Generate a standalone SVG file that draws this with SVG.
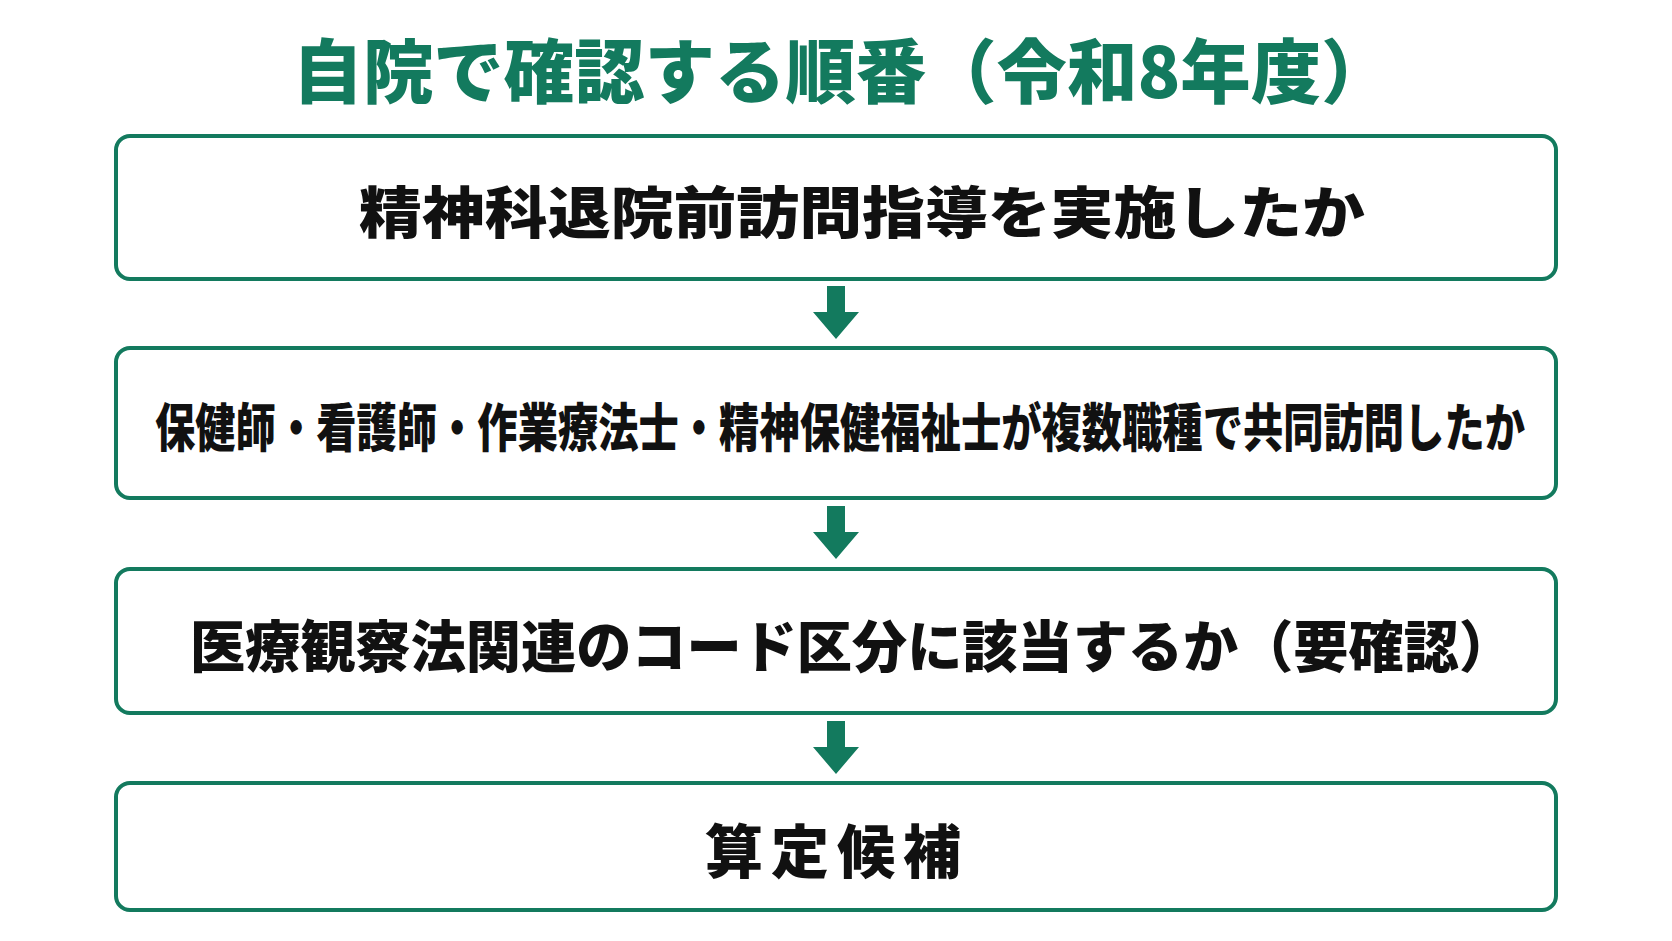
<svg xmlns="http://www.w3.org/2000/svg" width="1672" height="941" viewBox="0 0 1672 941">
<style>
.box{fill:#fff;stroke:#137a5e;stroke-width:4}
.t{font-family:"Noto Sans CJK JP",sans-serif;font-weight:900;fill:#111;text-anchor:middle;dominant-baseline:central}
.ar{fill:#137a5e}
</style>
<rect width="1672" height="941" fill="#fff"/>
<text class="t" x="842" y="67" font-size="70" style="fill:#137a5e" textLength="1099" lengthAdjust="spacingAndGlyphs">自院で確認する順番（令和8年度）</text>
<g id="n1"><rect class="box" x="116" y="136" width="1440" height="143" rx="14"/><text class="t" x="862" y="208" font-size="56" textLength="1006" lengthAdjust="spacingAndGlyphs">精神科退院前訪問指導を実施したか</text></g>
<g id="n2"><rect class="box" x="116" y="348" width="1440" height="150" rx="14"/><text class="t" x="840" y="424" font-size="52" textLength="1370" lengthAdjust="spacingAndGlyphs">保健師・看護師・作業療法士・精神保健福祉士が複数職種で共同訪問したか</text></g>
<g id="n3"><rect class="box" x="116" y="569" width="1440" height="144" rx="14"/><text class="t" x="852" y="642" font-size="56" textLength="1324" lengthAdjust="spacingAndGlyphs">医療観察法関連のコード区分に該当するか（要確認）</text></g>
<g id="n4"><rect class="box" x="116" y="783" width="1440" height="127" rx="14"/><text class="t" x="837" y="848" font-size="58" letter-spacing="8">算定候補</text></g>
<g id="connectors">
<path class="ar" d="M827 286h18v26h14l-23 27l-23-27h14z"/>
<path class="ar" d="M827 506h18v26h14l-23 27l-23-27h14z"/>
<path class="ar" d="M827 721h18v26h14l-23 27l-23-27h14z"/>
</g>
</svg>
